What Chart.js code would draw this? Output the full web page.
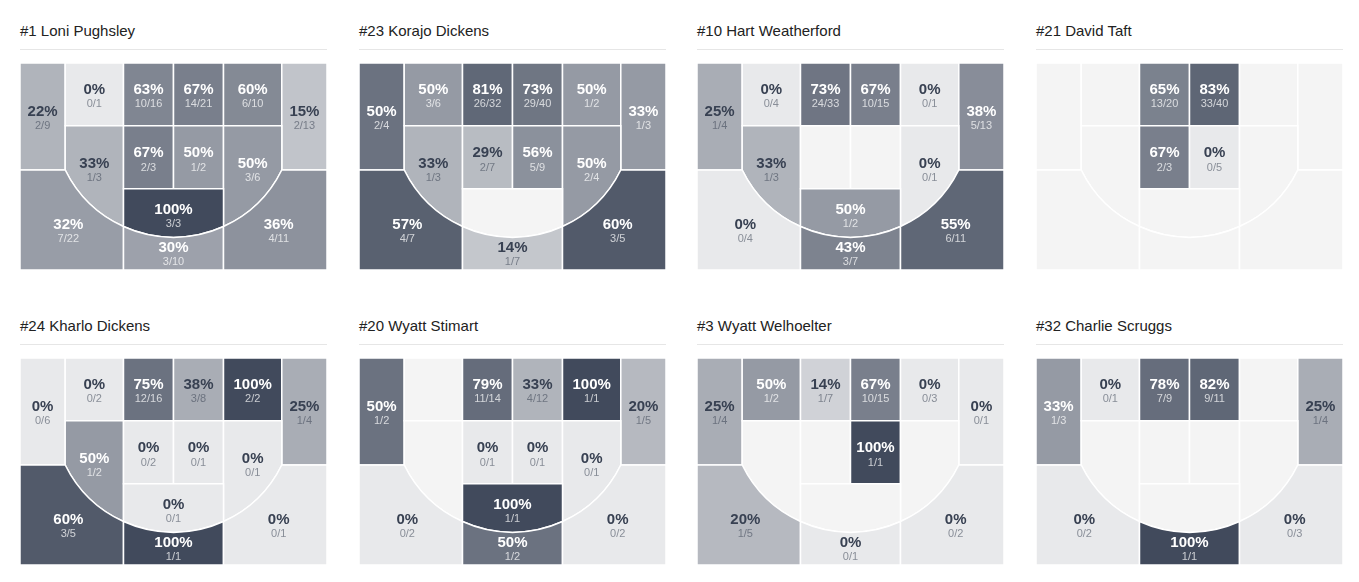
<!DOCTYPE html>
<html>
<head>
<meta charset="utf-8">
<script src="https://cdn.jsdelivr.net/npm/chart.js@4.4.0/dist/chart.umd.min.js"></script>
<style>
  body { margin: 0; background: #fff; width: 1359px; height: 582px; overflow: hidden;
         font-family: "Helvetica Neue", Helvetica, Arial, "Liberation Sans", sans-serif; }
  .panel { position: absolute; width: 307px; height: 270px; }
  .panel .title { position: absolute; left: 0; top: 21px; font-size: 15px; line-height: 20px; color: #222; white-space: nowrap; }
  .panel .rule { position: absolute; left: 0; top: 49px; width: 307px; height: 1px; background: #e6e6e6; }
  .panel canvas { position: absolute; left: 0; top: 63px; }
</style>
</head>
<body>
<script>
const players = ['#1 Loni Pughsley', '#23 Korajo Dickens', '#10 Hart Weatherford', '#21 David Taft',
  '#24 Kharlo Dickens', '#20 Wyatt Stimart', '#3 Wyatt Welhoelter', '#32 Charlie Scruggs'];

// zones: left corner 3, left baseline, paint top L, paint top R, right baseline, right corner 3,
// left wing, paint low L, paint low R, right wing, top of key, left wing 3, top 3, right wing 3
const zoneNames = ['LC3', 'LB', 'PTL', 'PTR', 'RB', 'RC3', 'LW', 'PLL', 'PLR', 'RW', 'TOK', 'LW3', 'T3', 'RW3'];
const zonePoints = [3, 2, 2, 2, 2, 3, 2, 2, 2, 2, 2, 3, 3, 3];

const made = [
  [2, 0, 10, 14, 6, 2, 1, 2, 1, 3, 3, 7, 3, 4],
  [2, 3, 26, 29, 1, 1, 1, 2, 5, 2, 0, 4, 1, 3],
  [1, 0, 24, 10, 0, 5, 1, 0, 0, 0, 1, 0, 3, 6],
  [0, 0, 13, 33, 0, 0, 0, 2, 0, 0, 0, 0, 0, 0],
  [0, 0, 12, 3, 2, 1, 1, 0, 0, 0, 0, 3, 1, 0],
  [1, 0, 11, 4, 1, 1, 0, 0, 0, 0, 1, 0, 1, 0],
  [1, 1, 1, 10, 0, 0, 0, 0, 1, 0, 0, 1, 0, 0],
  [1, 0, 7, 9, 0, 1, 0, 0, 0, 0, 0, 0, 1, 0]
];
const attempts = [
  [9, 1, 16, 21, 10, 13, 3, 3, 2, 6, 3, 22, 10, 11],
  [4, 6, 32, 40, 2, 3, 3, 7, 9, 4, 0, 7, 7, 5],
  [4, 4, 33, 15, 1, 13, 3, 0, 0, 1, 2, 4, 7, 11],
  [0, 0, 20, 40, 0, 0, 0, 3, 5, 0, 0, 0, 0, 0],
  [6, 2, 16, 8, 2, 4, 2, 2, 1, 1, 1, 5, 1, 1],
  [2, 0, 14, 12, 1, 5, 0, 1, 1, 1, 1, 2, 2, 2],
  [4, 2, 7, 15, 3, 1, 0, 0, 1, 0, 0, 5, 1, 2],
  [3, 1, 9, 11, 0, 4, 0, 0, 0, 0, 0, 2, 1, 3]
];

// half court in court units (baseline at top)
const W = 307, H = 207, CX = 153.5;
const PAINT = 50, CORNER = 108.3, ROW1 = 62.7, FT = 125.7, ARC_Y = 53.7, ARC_R = 120.7;
const arcY = dx => ARC_Y + Math.sqrt(ARC_R * ARC_R - dx * dx);
const CY3 = arcY(CORNER), PY3 = arcY(PAINT);

function rect(x0, y0, x1, y1) {
  return [['M', x0, y0], ['L', x1, y0], ['L', x1, y1], ['L', x0, y1]];
}
const zoneShapes = [
  rect(0, 0, CX - CORNER, CY3),
  rect(CX - CORNER, 0, CX - PAINT, ROW1),
  rect(CX - PAINT, 0, CX, ROW1),
  rect(CX, 0, CX + PAINT, ROW1),
  rect(CX + PAINT, 0, CX + CORNER, ROW1),
  rect(CX + CORNER, 0, W, CY3),
  [['M', CX - CORNER, ROW1], ['L', CX - PAINT, ROW1], ['L', CX - PAINT, PY3], ['A', -PAINT, -CORNER]],
  rect(CX - PAINT, ROW1, CX, FT),
  rect(CX, ROW1, CX + PAINT, FT),
  [['M', CX + PAINT, ROW1], ['L', CX + CORNER, ROW1], ['L', CX + CORNER, CY3], ['A', CORNER, PAINT]],
  [['M', CX - PAINT, FT], ['L', CX + PAINT, FT], ['L', CX + PAINT, PY3], ['A', PAINT, -PAINT]],
  [['M', 0, CY3], ['L', CX - CORNER, CY3], ['A', -CORNER, -PAINT], ['L', CX - PAINT, H], ['L', 0, H]],
  [['M', CX - PAINT, PY3], ['A', -PAINT, PAINT], ['L', CX + PAINT, H], ['L', CX - PAINT, H]],
  [['M', CX + PAINT, PY3], ['A', PAINT, CORNER], ['L', W, CY3], ['L', W, H], ['L', CX + PAINT, H]]
];
// label anchor of each zone
const zoneLabelAt = [
  [(CX - CORNER) / 2, 55.8], [CX - 79.2, 33.5], [CX - 25, 33.5], [CX + 25, 33.5], [CX + 79.2, 33.5],
  [(CX + CORNER + W) / 2, 55.8], [CX - 79.2, 107.8], [CX - 25, 97.2], [CX + 25, 97.2], [CX + 79.2, 107.8],
  [CX, 153.5], [CX - 105.2, 168.5], [CX, 191.8], [CX + 105.2, 168.5]
];

const LIGHT = [232, 233, 235], DARK = [65, 74, 92], EMPTY = '#f4f4f4';
// darkness follows points per shot, full at 2 points
function darkness(m, a, pts) {
  return Math.min(1, (m / a) * pts / 2);
}
function shade(m, a, pts) {
  if (!a) return EMPTY;
  const t = darkness(m, a, pts);
  return 'rgb(' + LIGHT.map((c, k) => Math.round(c + (DARK[k] - c) * t)).join(',') + ')';
}

const FONT = '"Helvetica Neue", Helvetica, Arial, "Liberation Sans", sans-serif';

const courtPlugin = {
  id: 'court',
  beforeDatasetsDraw(chart) {
    const { ctx, scales: { x, y } } = chart;
    const p = chart.options.plugins.court.player;
    const px = v => x.getPixelForValue(v), py = v => y.getPixelForValue(v);
    const rPx = px(CX + ARC_R) - px(CX);
    ctx.save();
    zoneShapes.forEach((shape, z) => {
      ctx.beginPath();
      shape.forEach(op => {
        if (op[0] === 'M') ctx.moveTo(px(op[1]), py(op[2]));
        else if (op[0] === 'L') ctx.lineTo(px(op[1]), py(op[2]));
        else {
          const a0 = Math.atan2(arcY(op[1]) - ARC_Y, op[1]);
          const a1 = Math.atan2(arcY(op[2]) - ARC_Y, op[2]);
          ctx.arc(px(CX), py(ARC_Y), rPx, a0, a1, a1 < a0);
        }
      });
      ctx.closePath();
      ctx.fillStyle = shade(made[p][z], attempts[p][z], zonePoints[z]);
      ctx.fill();
      ctx.strokeStyle = '#ffffff';
      ctx.lineWidth = 1.5;
      ctx.stroke();
    });
    ctx.restore();
  },
  afterDatasetsDraw(chart) {
    const { ctx } = chart;
    const p = chart.options.plugins.court.player;
    const meta = chart.getDatasetMeta(0);
    ctx.save();
    ctx.textAlign = 'center';
    ctx.textBaseline = 'middle';
    meta.data.forEach((pt, z) => {
      const m = made[p][z], a = attempts[p][z];
      if (!a) return;
      const light = darkness(m, a, zonePoints[z]) > 0.42;
      ctx.font = 'bold 15px ' + FONT;
      ctx.fillStyle = light ? '#ffffff' : '#384152';
      ctx.fillText(Math.round(m / a * 100) + '%', pt.x, pt.y - 7);
      ctx.font = '11px ' + FONT;
      ctx.fillStyle = light ? 'rgba(255,255,255,0.72)' : 'rgba(56,65,82,0.55)';
      ctx.fillText(m + '/' + a, pt.x, pt.y + 7.5);
    });
    ctx.restore();
  }
};

players.forEach((name, p) => {
  const col = p % 4, row = Math.floor(p / 4);
  const panel = document.createElement('div');
  panel.className = 'panel';
  panel.style.left = Math.round(20 + col * 338.7) + 'px';
  panel.style.top = (row * 295) + 'px';
  const title = document.createElement('div');
  title.className = 'title';
  title.textContent = name;
  const rule = document.createElement('div');
  rule.className = 'rule';
  const canvas = document.createElement('canvas');
  canvas.width = W;
  canvas.height = H;
  panel.append(title, rule, canvas);
  document.body.appendChild(panel);

  new Chart(canvas, {
    type: 'scatter',
    data: {
      datasets: [{
        data: zoneLabelAt.map(l => ({ x: l[0], y: l[1] })),
        pointRadius: 0
      }]
    },
    options: {
      responsive: false,
      animation: false,
      devicePixelRatio: 1,
      events: [],
      layout: { padding: 0 },
      scales: {
        x: { type: 'linear', min: 0, max: W, display: false },
        y: { type: 'linear', min: 0, max: H, reverse: true, display: false }
      },
      plugins: {
        legend: { display: false },
        tooltip: { enabled: false },
        court: { player: p }
      }
    },
    plugins: [courtPlugin]
  });
});
</script>
</body>
</html>
